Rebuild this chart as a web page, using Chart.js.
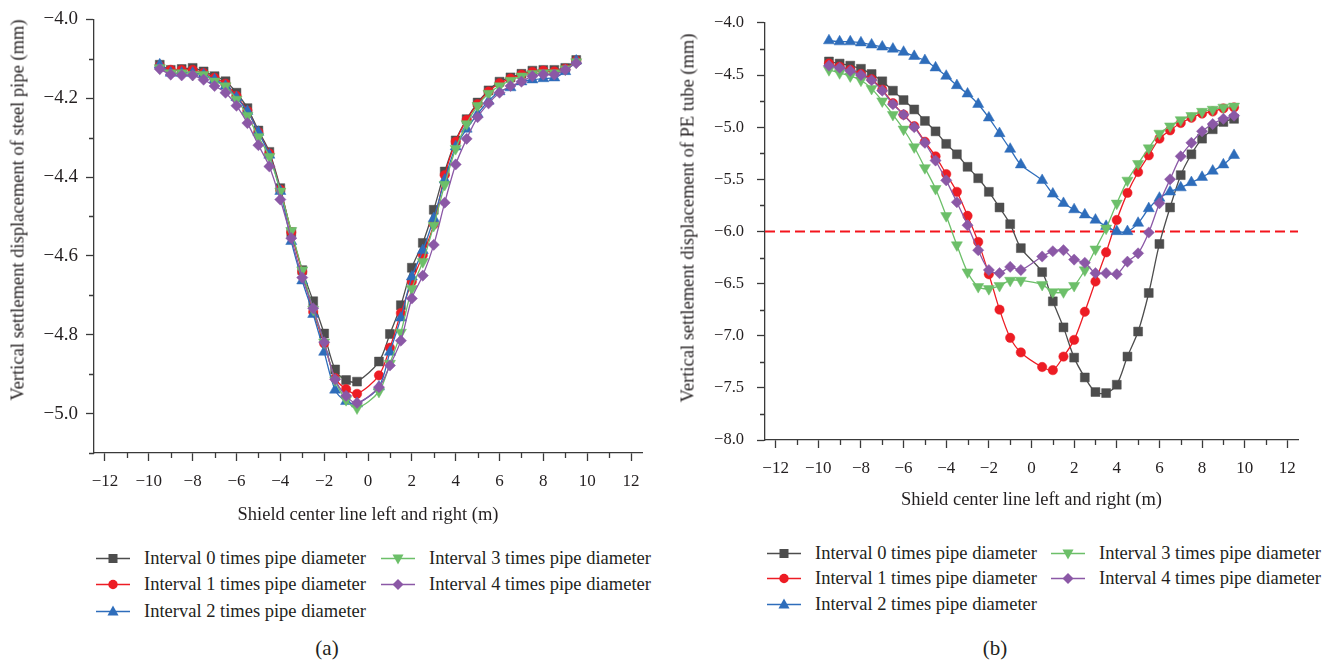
<!DOCTYPE html>
<html>
<head>
<meta charset="utf-8">
<script src="https://cdn.jsdelivr.net/npm/chart.js@4.4.0/dist/chart.umd.min.js"></script>
<style>
body{margin:0;background:#fff;width:1330px;height:664px;position:relative;overflow:hidden;font-family:'Liberation Serif','DejaVu Serif',serif;color:#231f20}
canvas{position:absolute;top:0}
.ytitle{position:absolute;white-space:nowrap;font-size:18.5px;transform:translate(-50%,-50%) rotate(-90deg)}
.item{position:absolute;white-space:nowrap;display:flex;align-items:center;transform:translateY(-50%);font-size:18.5px}
.item svg{margin-right:14px}
.cap{position:absolute;font-size:21px;transform:translate(-50%,-50%)}
</style>
</head>
<body>
<canvas id="c1" width="660" height="526" style="left:0"></canvas>
<canvas id="c2" width="660" height="511" style="left:670px"></canvas>
<div class="ytitle" style="left:18px;top:210px">Vertical settlement displacement of steel pipe (mm)</div>
<div class="ytitle" style="left:688px;top:218px">Vertical settlement displacement of PE tube (mm)</div>
<div id="leg1"></div>
<div id="leg2"></div>
<div class="cap" style="left:327px;top:648px">(a)</div>
<div class="cap" style="left:995px;top:648px">(b)</div>
<script>
// x positions (m) - no point at 0
const xs = [-9.5,-9,-8.5,-8,-7.5,-7,-6.5,-6,-5.5,-5,-4.5,-4,-3.5,-3,-2.5,-2,-1.5,-1,-0.5,
  0.5,1,1.5,2,2.5,3,3.5,4,4.5,5,5.5,6,6.5,7,7.5,8,8.5,9,9.5]
const seriesNames = ['Interval 0 times pipe diameter','Interval 1 times pipe diameter','Interval 2 times pipe diameter','Interval 3 times pipe diameter','Interval 4 times pipe diameter']

// (a) steel pipe
const steel0 = [-4.115,-4.128,-4.126,-4.123,-4.132,-4.144,-4.157,-4.186,-4.225,-4.282,-4.336,-4.428,-4.54,-4.636,-4.715,-4.797,-4.888,-4.915,-4.919,
  -4.868,-4.798,-4.725,-4.63,-4.567,-4.483,-4.386,-4.307,-4.253,-4.211,-4.18,-4.158,-4.147,-4.138,-4.13,-4.128,-4.128,-4.123,-4.103]
const steel1 = [-4.118,-4.128,-4.128,-4.128,-4.136,-4.148,-4.163,-4.194,-4.232,-4.286,-4.34,-4.432,-4.54,-4.64,-4.742,-4.822,-4.91,-4.938,-4.95,
  -4.903,-4.833,-4.745,-4.665,-4.598,-4.52,-4.395,-4.31,-4.255,-4.215,-4.183,-4.162,-4.15,-4.14,-4.133,-4.13,-4.132,-4.125,-4.105]
const steel2 = [-4.115,-4.136,-4.136,-4.136,-4.14,-4.153,-4.169,-4.198,-4.233,-4.286,-4.344,-4.436,-4.563,-4.663,-4.748,-4.844,-4.94,-4.969,-4.975,
  -4.932,-4.844,-4.757,-4.653,-4.586,-4.505,-4.407,-4.323,-4.278,-4.24,-4.207,-4.183,-4.173,-4.158,-4.153,-4.15,-4.148,-4.132,-4.105]
const steel3 = [-4.123,-4.136,-4.136,-4.14,-4.14,-4.157,-4.169,-4.203,-4.244,-4.298,-4.348,-4.436,-4.536,-4.636,-4.736,-4.819,-4.915,-4.965,-4.986,
  -4.944,-4.873,-4.794,-4.683,-4.615,-4.523,-4.419,-4.328,-4.265,-4.219,-4.188,-4.169,-4.155,-4.144,-4.138,-4.136,-4.136,-4.126,-4.108]
const steel4 = [-4.126,-4.14,-4.142,-4.142,-4.153,-4.169,-4.186,-4.219,-4.263,-4.319,-4.373,-4.457,-4.555,-4.655,-4.733,-4.819,-4.913,-4.955,-4.973,
  -4.933,-4.878,-4.815,-4.708,-4.65,-4.572,-4.465,-4.368,-4.303,-4.248,-4.213,-4.186,-4.169,-4.158,-4.144,-4.14,-4.14,-4.128,-4.111]

// (b) PE tube
const pe0 = [-4.37,-4.39,-4.41,-4.44,-4.49,-4.56,-4.65,-4.74,-4.83,-4.94,-5.04,-5.16,-5.26,-5.38,-5.49,-5.62,-5.77,-5.93,-6.16,
  -6.39,-6.67,-6.92,-7.21,-7.40,-7.54,-7.55,-7.47,-7.20,-6.96,-6.59,-6.12,-5.77,-5.46,-5.26,-5.11,-5.02,-4.95,-4.92]
const pe1 = [-4.39,-4.42,-4.45,-4.49,-4.54,-4.64,-4.77,-4.88,-4.99,-5.14,-5.28,-5.45,-5.62,-5.85,-6.10,-6.41,-6.75,-7.02,-7.16,
  -7.30,-7.33,-7.20,-7.04,-6.77,-6.48,-6.20,-5.89,-5.63,-5.43,-5.27,-5.11,-5.03,-4.96,-4.91,-4.87,-4.85,-4.82,-4.81]
const pe2 = [-4.17,-4.18,-4.18,-4.19,-4.21,-4.23,-4.25,-4.28,-4.32,-4.36,-4.43,-4.51,-4.60,-4.68,-4.78,-4.91,-5.06,-5.21,-5.36,
  -5.51,-5.64,-5.73,-5.79,-5.84,-5.89,-5.95,-6.00,-6.00,-5.92,-5.78,-5.68,-5.62,-5.58,-5.53,-5.48,-5.42,-5.36,-5.27]
const pe3 = [-4.45,-4.48,-4.51,-4.55,-4.63,-4.75,-4.88,-5.02,-5.19,-5.39,-5.59,-5.85,-6.13,-6.39,-6.53,-6.55,-6.52,-6.47,-6.47,
  -6.51,-6.58,-6.58,-6.52,-6.37,-6.17,-5.97,-5.73,-5.51,-5.35,-5.20,-5.06,-4.99,-4.93,-4.89,-4.85,-4.83,-4.81,-4.80]
const pe4 = [-4.41,-4.43,-4.46,-4.50,-4.55,-4.65,-4.78,-4.88,-5.00,-5.15,-5.32,-5.51,-5.72,-5.94,-6.18,-6.37,-6.40,-6.34,-6.37,
  -6.24,-6.19,-6.18,-6.27,-6.30,-6.40,-6.40,-6.41,-6.29,-6.21,-6.01,-5.73,-5.50,-5.28,-5.15,-5.04,-4.97,-4.92,-4.89]
const peLimit = -6.0

// axis ticks
const xTicks = [-12,-10,-8,-6,-4,-2,0,2,4,6,8,10,12]
const xMinor = [-11,-9,-7,-5,-3,-1,1,3,5,7,9,11]
const yTicksA = [-5.0,-4.8,-4.6,-4.4,-4.2,-4.0]
const yMinorA = [-5.1,-4.9,-4.7,-4.5,-4.3,-4.1]
const yTicksB = [-8.0,-7.5,-7.0,-6.5,-6.0,-5.5,-5.0,-4.5,-4.0]
const yMinorB = [-7.75,-7.25,-6.75,-6.25,-5.75,-5.25,-4.75,-4.25]

const FONT = "'Liberation Serif','DejaVu Serif',serif"
const AXIS = '#3a3a3a', TXT = '#231f20'
const looks = [
  {color:'#4d4d4d', point:'rect', r:6.3, rot:0},
  {color:'#ed1c24', point:'circle', r:4.7, rot:0},
  {color:'#2e6dbb', point:'triangle', r:6.4, rot:0},
  {color:'#6cbf69', point:'triangle', r:6.4, rot:180},
  {color:'#8b58a6', point:'rectRot', r:5.6, rot:0},
]
const fmt = (v, d) => (v<0?'\u2212':'')+Math.abs(v).toFixed(d)

// short minor ticks, outward
const minorTicks = {
  id:'minorTicks',
  afterDraw(chart, args, o){
    const {ctx, chartArea:a, scales:{x,y}} = chart
    ctx.save(); ctx.strokeStyle = AXIS; ctx.lineWidth = 1.3
    ctx.beginPath()
    o.x.forEach(v=>{const p=Math.round(x.getPixelForValue(v))+0.5;ctx.moveTo(p,a.bottom);ctx.lineTo(p,a.bottom+5)})
    o.y.forEach(v=>{const p=Math.round(y.getPixelForValue(v))+0.5;ctx.moveTo(a.left,p);ctx.lineTo(a.left-5,p)})
    ctx.stroke(); ctx.restore()
  }
}

function makeChart(id, series, cfg){
  const datasets = series.map((ys,i)=>({
    label: seriesNames[i],
    data: xs.map((x,j)=>({x, y: ys[j]})),
    borderColor: looks[i].color, backgroundColor: looks[i].color,
    borderWidth: 1.3, tension: 0.3,
    pointStyle: looks[i].point, pointRadius: looks[i].r, pointRotation: looks[i].rot,
    pointBorderWidth: 0.5, order: 5-i
  }))
  if (cfg.limit !== undefined) datasets.push({
    label:'limit', data:[{x:-12.5,y:cfg.limit},{x:12.5,y:cfg.limit}],
    borderColor:'#f4141c', backgroundColor:'#f4141c', borderWidth:2, borderDash:[10,5], pointRadius:0, order:10
  })
  return new Chart(document.getElementById(id), {
    type:'line',
    data:{datasets},
    options:{
      responsive:false, animation:false, devicePixelRatio:1,
      layout:{padding:{top:14, right:cfg.padR, left:0, bottom:0}},
      plugins:{legend:{display:false}, tooltip:{enabled:false}, minorTicks:{x:xMinor, y:cfg.yMinor}},
      scales:{
        x:{type:'linear', min:-12.5, max:12.5,
          grid:{drawOnChartArea:false, tickLength:8, color:AXIS, tickWidth:1.3},
          border:{color:AXIS, width:1.3},
          afterBuildTicks: s => { s.ticks = xTicks.map(v=>({value:v})) },
          afterFit: s => { s.height = cfg.xH },
          ticks:{autoSkip:false, maxRotation:0, padding:10, color:TXT, font:{family:FONT, size:17}, callback: v => fmt(v,0)},
          title:{display:true, text:'Shield center line left and right (m)', color:TXT, font:{family:FONT, size:18.5}, padding:{top:0,bottom:0}}
        },
        y:{type:'linear', min:cfg.yMin, max:cfg.yMax,
          grid:{drawOnChartArea:false, tickLength:8, color:AXIS, tickWidth:1.3},
          border:{color:AXIS, width:1.3},
          afterBuildTicks: s => { s.ticks = cfg.yTicks.map(v=>({value:v})) },
          afterFit: s => { s.width = cfg.yW },
          ticks:{autoSkip:false, padding:cfg.yPad, color:TXT, font:{family:FONT, size:cfg.yFont}, callback: v => fmt(v,1)}
        }
      }
    },
    plugins:[minorTicks]
  })
}

makeChart('c1', [steel0,steel1,steel2,steel3,steel4], {yMin:-5.1, yMax:-4.0, yTicks:yTicksA, yMinor:yMinorA, yW:94, padR:18, xH:73, yPad:8, yFont:19})
makeChart('c2', [pe0,pe1,pe2,pe3,pe4], {yMin:-8.0, yMax:-4.0, yTicks:yTicksB, yMinor:yMinorB, yW:95, padR:32, xH:71, yPad:13, yFont:16.5, limit:peLimit})

// legends
function icon(i){
  const c = looks[i].color
  let m = ''
  if (i===0) m = `<rect x="12.5" y="2.5" width="9" height="9" fill="${c}"/>`
  if (i===1) m = `<circle cx="17" cy="7" r="4.7" fill="${c}"/>`
  if (i===2) m = `<polygon points="17,1 22.5,11 11.5,11" fill="${c}"/>`
  if (i===3) m = `<polygon points="11.5,3 22.5,3 17,13" fill="${c}"/>`
  if (i===4) m = `<polygon points="17,1.5 22.5,7 17,12.5 11.5,7" fill="${c}"/>`
  return `<svg width="34" height="14"><line x1="0" y1="7" x2="34" y2="7" stroke="${c}" stroke-width="1.5"/>${m}</svg>`
}
function legend(id, cols, rows){
  const el = document.getElementById(id)
  const slots = [[0,0],[0,1],[0,2],[1,0],[1,1]]
  seriesNames.forEach((name,i)=>{
    const [c,r] = slots[i]
    const d = document.createElement('div'); d.className='item'
    d.style.left = cols[c]+'px'; d.style.top = rows[r]+'px'
    d.innerHTML = icon(i)+'<span>'+name+'</span>'
    el.appendChild(d)
  })
}
legend('leg1', [96,381], [558,584,611])
legend('leg2', [767,1051], [553,578,604])
</script>
</body>
</html>
